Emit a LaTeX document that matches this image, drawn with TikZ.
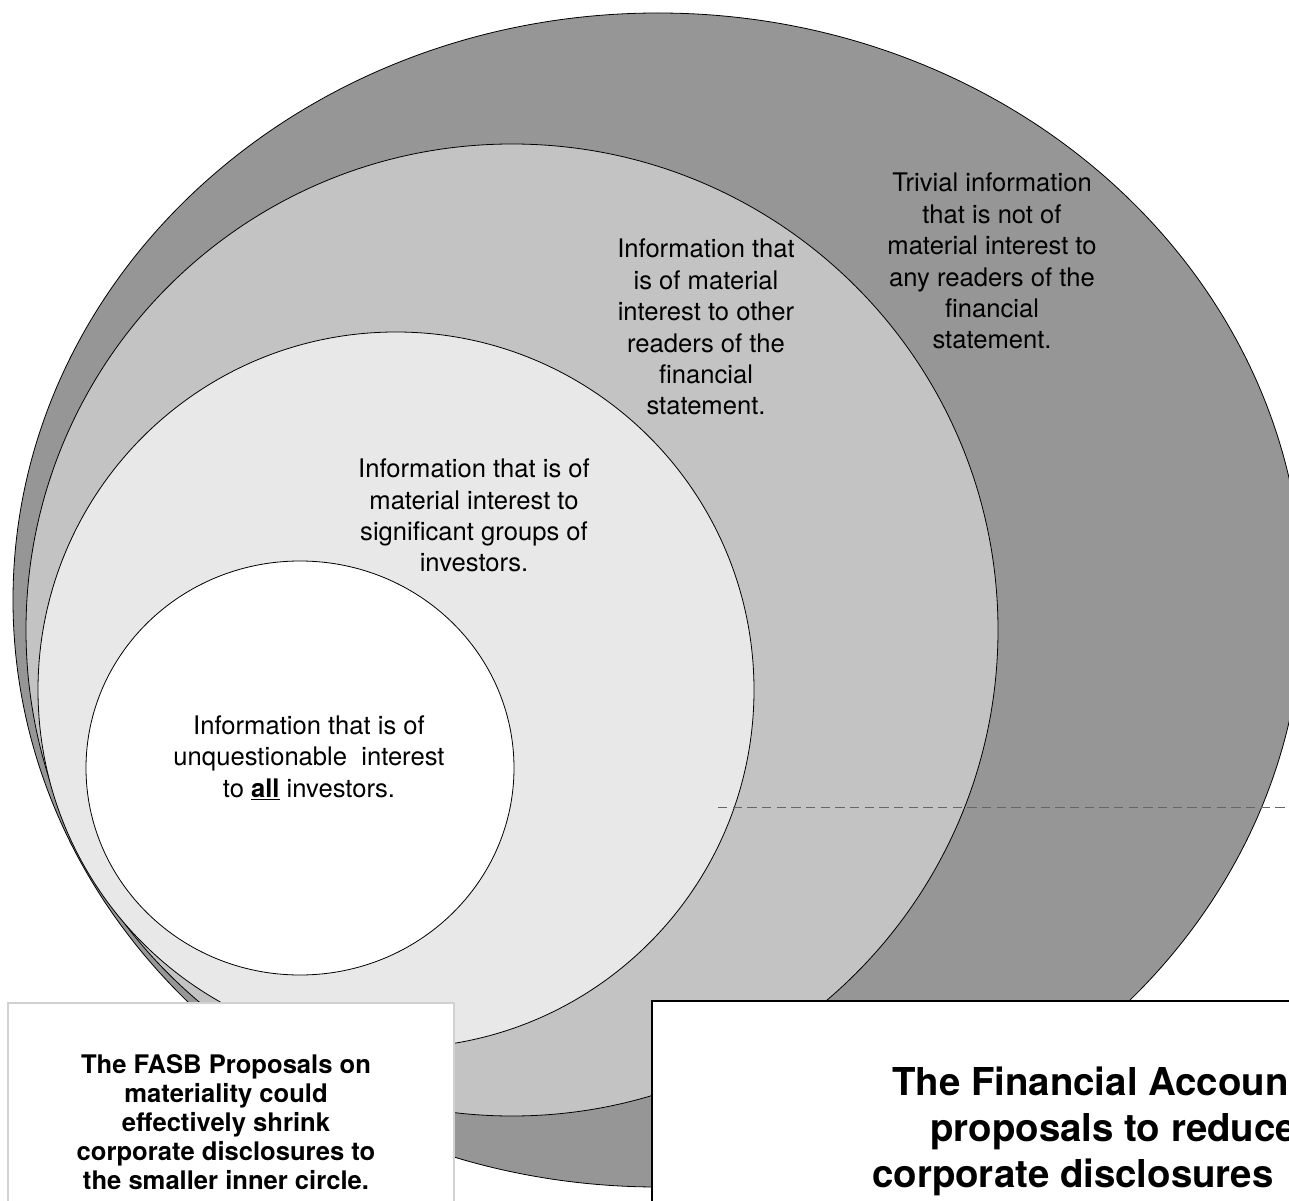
\documentclass[tikz,border=0pt]{standalone}
\usepackage{fontspec}
\setmainfont{TeX Gyre Heros}
\usepackage{tikz}
\definecolor{ringdark}{HTML}{969696}
\definecolor{ringmid}{HTML}{C3C3C3}
\definecolor{ringlight}{HTML}{E8E8E8}

\begin{document}
\begin{tikzpicture}[x=0.75pt,y=-0.75pt]
  \tikzset{
  ring/.style = {draw=black, line width=0.6pt},
  info/.style = {align=center, inner sep=0pt, anchor=base,
    font=\fontsize{19.2}{23.6}\selectfont},% text in the rings, placed by its last line
  notebox/.style = {fill=white, line width=2.2pt},
  notetext/.style = {align=center, inner sep=0pt, anchor=base,
    font=\fontsize{19.2}{21.6}\selectfont\bfseries},
  bigtext/.style = {inner sep=0pt, anchor=base west,
    font=\fontsize{28.8}{34}\selectfont\bfseries},
  dashline/.style = {draw=black!60, line width=0.75pt,
    dash pattern=on 7pt off 4pt}
}
\useasboundingbox (0,0) rectangle (1289,1201);

% rings, outside in
\draw [ring, fill=ringdark] (658,600) ellipse [x radius=645, y radius=587];
\draw [ring, fill=ringmid] (512,630) circle [radius=486];
\draw [ring, fill=ringlight] (396,690) circle [radius=358];
\draw [ring, fill=white] (300,768) ellipse [x radius=214, y radius=207];

\node [info] (trivial) at (992,349) {Trivial information\\ that is not of\\
  material interest to\\ any readers of the\\ financial\\ statement.};
\node [info] (others) at (706,415) {Information that\\ is of material\\
  interest to other\\ readers of the\\ financial\\ statement.};
\node [info] (groups) at (474,572) {Information that is of\\
  material interest to\\ significant groups of\\ investors.};
\node [info] (allinv) at (309,797) {Information that is of\\
  unquestionable\ \ interest\\ to \underline{\textbf{all}} investors.};

% dashed guide
\coordinate (dashL) at (718,807);
\coordinate (dashR) at (1289,807);
\draw [dashline] (dashL) -- (dashR);

% boxes
\draw [notebox, draw=black!18] (8,1003) rectangle (454,1215);
\draw [notebox, draw=black] (652,1001) rectangle (1300,1215);

\node [notetext] (fasb) at (226,1189) {The FASB Proposals on\\
  materiality could\\ effectively shrink\\ corporate disclosures to\\
  the smaller inner circle.};
\node [bigtext] (fin1) at (892,1095) {The Financial Accoun};
\node [bigtext] (fin2) at (930,1141) {proposals to reduce};
\node [bigtext] (fin3) at (872,1187) {corporate disclosures};
\end{tikzpicture}
\end{document}
